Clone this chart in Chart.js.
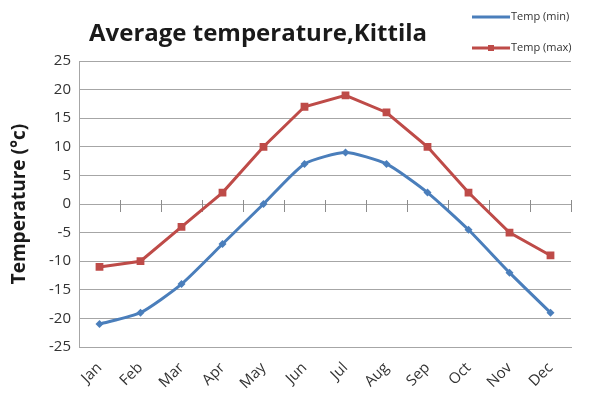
<!DOCTYPE html>
<html>
<head>
<meta charset="utf-8">
<script src="https://cdn.jsdelivr.net/npm/chart.js@4/dist/chart.umd.min.js"></script>
<style>
  html, body { margin: 0; padding: 0; background: #fff; }
  #wrap { width: 594px; height: 405px; position: relative; }
</style>
</head>
<body>
<div id="wrap"><canvas id="c" width="594" height="405"></canvas></div>
<script>
// --- data ---
const months = ["Jan", "Feb", "Mar", "Apr", "May", "Jun", "Jul", "Aug", "Sep", "Oct", "Nov", "Dec"];
const tempMin = [-21, -19, -14, -7, 0, 7, 9, 7, 2, -4.5, -12, -19];
const tempMax = [-11, -10, -4, 2, 10, 17, 19, 16, 10, 2, -5, -9];
const chartTitle = "Average temperature,Kittila";
const yTitle = "Temperature (°c)";

const BLUE = "#4a7ebb";
const RED = "#be4b48";
const GRID = "#a6a6a6";

// title + legend drawn in the top strip, like the original
const headerPlugin = {
  id: "header",
  afterDraw(chart) {
    const c = chart.ctx;
    c.save();
    c.fillStyle = "#1a1a1a";
    c.font = "bold 24px 'Open Sans', sans-serif";
    c.textBaseline = "middle";
    c.textAlign = "left";
    c.fillText(chartTitle, 89, 34);

    c.font = "11px 'Open Sans', sans-serif";
    chart.data.datasets.forEach((ds, i) => {
      const y = 17 + i * 31;
      c.strokeStyle = ds.borderColor;
      c.lineWidth = 3;
      c.beginPath();
      c.moveTo(472, y);
      c.lineTo(510, y);
      c.stroke();
      if (i === 1) {
        c.fillStyle = ds.borderColor;
        c.fillRect(488, y - 3, 6, 6);
      }
      c.fillStyle = "#333";
      c.fillText(ds.label, 511, y);
    });
    c.restore();
  }
};

// tick marks on the zero line between categories
const zeroTicks = {
  id: "zeroTicks",
  beforeDatasetsDraw(chart) {
    const x = chart.scales.x, y = chart.scales.y;
    const y0 = y.getPixelForValue(0);
    const c = chart.ctx;
    const step = x.getPixelForValue(1) - x.getPixelForValue(0);
    c.save();
    c.strokeStyle = "#8c8c8c";
    c.lineWidth = 1;
    c.beginPath();
    for (let i = 0; i < months.length; i++) {
      const px = Math.round(x.getPixelForValue(i) + step / 2) + 0.5;
      c.moveTo(px, y0 - 4);
      c.lineTo(px, y0 + 8);
    }
    c.stroke();
    c.restore();
  }
};

new Chart(document.getElementById("c"), {
  type: "line",
  data: {
    labels: months,
    datasets: [
      {
        label: "Temp (min)",
        data: tempMin,
        borderColor: BLUE,
        backgroundColor: BLUE,
        borderWidth: 3,
        pointStyle: "rectRot",
        pointRadius: 4,
        pointBorderWidth: 0,
        tension: 0.2
      },
      {
        label: "Temp (max)",
        data: tempMax,
        borderColor: RED,
        backgroundColor: RED,
        borderWidth: 3,
        pointStyle: "rect",
        pointRadius: 5.5,
        pointBorderWidth: 0,
        tension: 0
      }
    ]
  },
  options: {
    responsive: false,
    animation: false,
    layout: { padding: { left: 8, right: 23, top: 61, bottom: 0 } },
    plugins: {
      legend: { display: false },
      title: { display: false },
      tooltip: { enabled: false }
    },
    scales: {
      x: {
        offset: true,
        grid: { display: false },
        border: { display: true, color: GRID, width: 1 },
        ticks: {
          color: "#333",
          font: { family: "'Open Sans', sans-serif", size: 15 },
          maxRotation: 45,
          minRotation: 45,
          padding: 4
        },
        afterFit(scale) { scale.height = 58; }
      },
      y: {
        min: -25,
        max: 25,
        grid: { color: GRID, lineWidth: 1, drawTicks: false },
        border: { display: true, color: GRID },
        ticks: {
          stepSize: 5,
          color: "#333",
          padding: 8,
          font: { family: "'Open Sans', sans-serif", size: 15 }
        },
        title: {
          display: true,
          text: yTitle,
          color: "#1a1a1a",
          padding: { top: 0, bottom: 2 },
          font: { family: "'Open Sans', sans-serif", size: 19, weight: "bold" }
        },
        afterFit(scale) { scale.width = 71; }
      }
    }
  },
  plugins: [headerPlugin, zeroTicks]
});
</script>
</body>
</html>
